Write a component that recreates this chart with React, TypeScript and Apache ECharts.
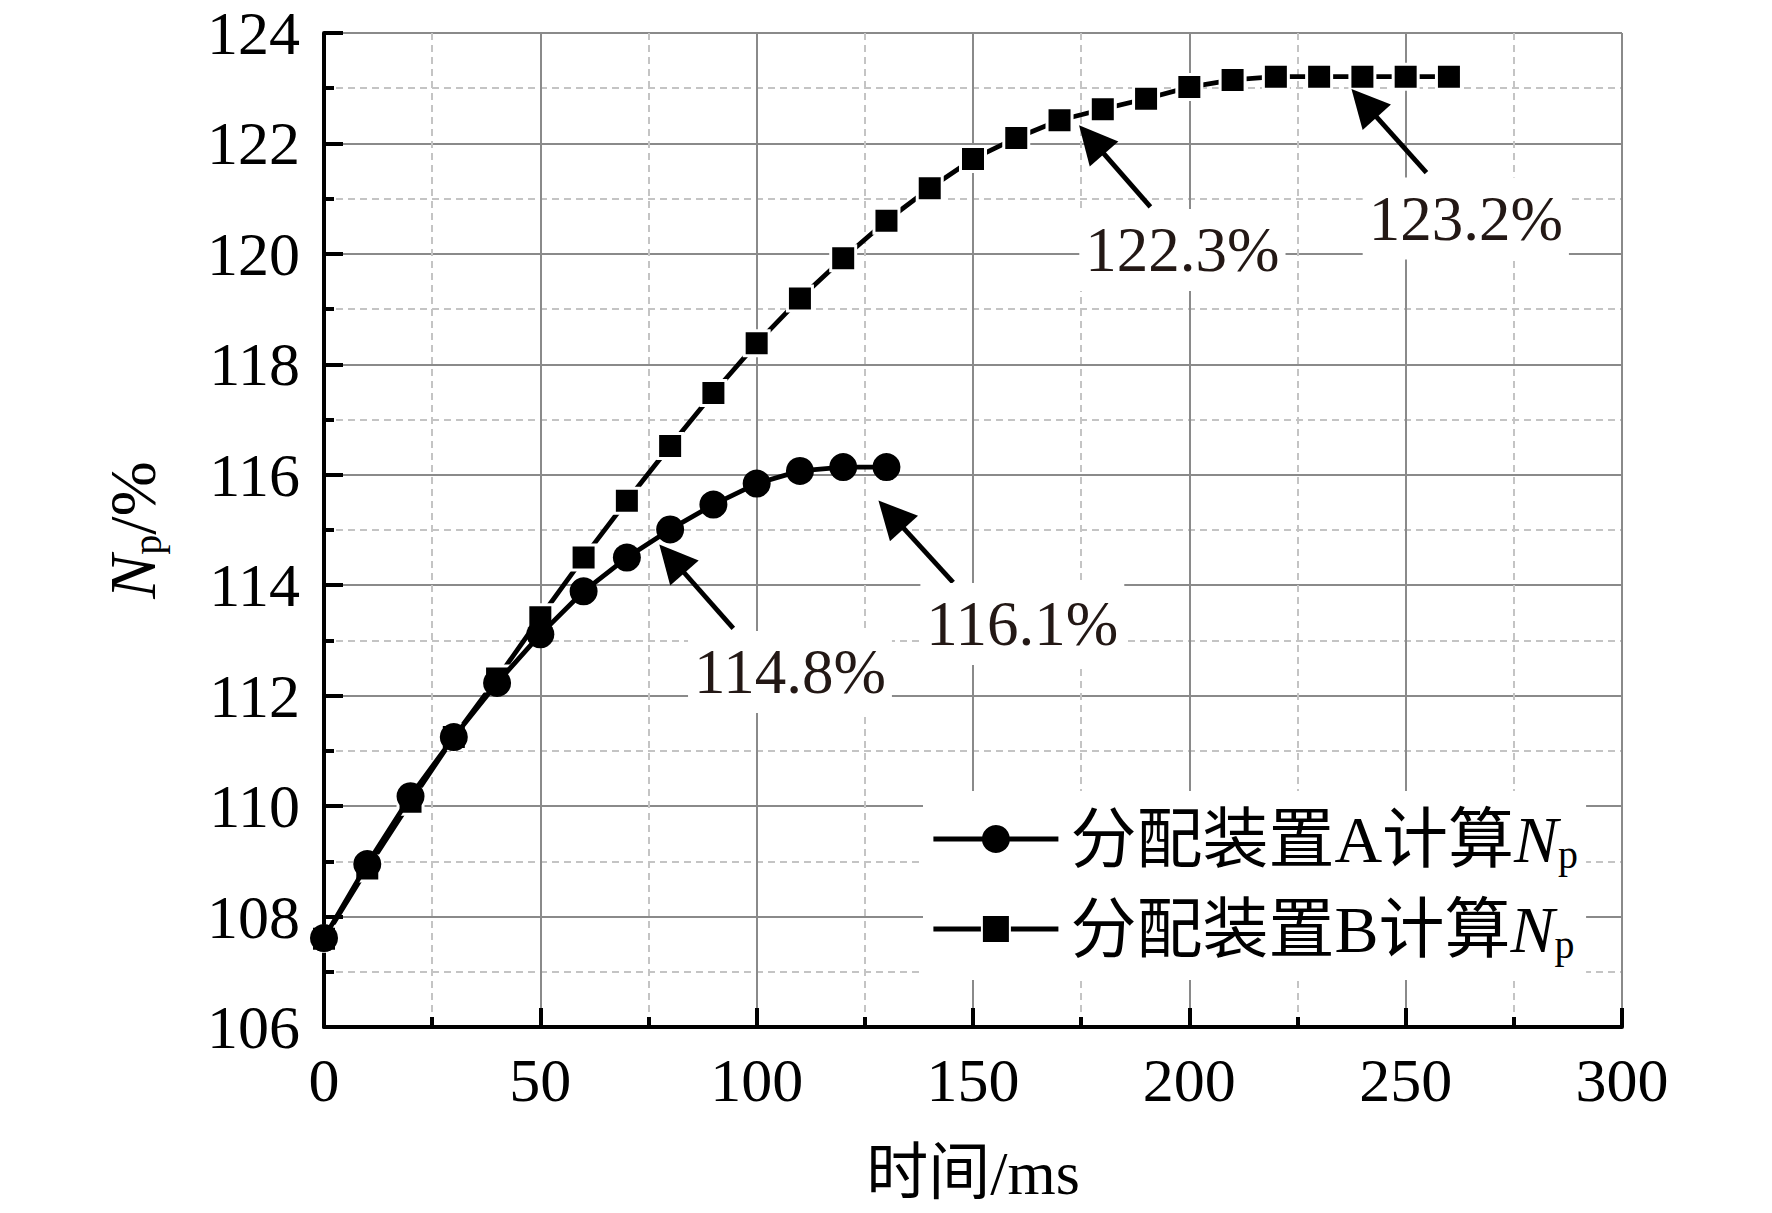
import React, { useEffect, useRef } from "react";
import * as echarts from "echarts";

// ---- data ----
const timesA = [0, 10, 20, 30, 40, 50, 60, 70, 80, 90, 100, 110, 120, 130];
const valuesA = [107.61, 108.95, 110.18, 111.25, 112.23, 113.11, 113.89, 114.5, 115.01, 115.46, 115.84, 116.07, 116.14, 116.14];

const timesB = [0, 10, 20, 30, 40, 50, 60, 70, 80, 90, 100, 110, 120, 130, 140, 150, 160, 170, 180, 190, 200, 210, 220, 230, 240, 250, 260];
const valuesB = [107.6, 108.87, 110.08, 111.25, 112.31, 113.42, 114.5, 115.53, 116.52, 117.48, 118.38, 119.19, 119.92, 120.6, 121.19, 121.72, 122.1, 122.42, 122.62, 122.81, 123.02, 123.15, 123.21, 123.21, 123.21, 123.21, 123.21];

const seriesNames = ["分配装置A计算Np", "分配装置B计算Np"];
const legendMain = ["分配装置A计算", "分配装置B计算"];

// annotations (data coordinates)
const noteTexts = ["122.3%", "123.2%", "114.8%", "116.1%"];
const noteX = [198.4, 263.9, 107.7, 161.4];
const noteY = [120.07, 120.64, 112.43, 113.3];
const arrowTailX = [191, 254.8, 94.6, 145.4];
const arrowTailY = [120.85, 121.47, 113.22, 114.05];
const arrowHeadX = [177.4, 240.4, 80.4, 131.1];
const arrowHeadY = [122.07, 122.73, 114.48, 115.28];

const xTicks = { min: 0, max: 300, interval: 50 };
const yTicks = { min: 106, max: 124, interval: 2 };

const SERIF = "'Liberation Serif', 'Times New Roman', serif";
const MIXED = "'Liberation Serif', 'Noto Sans CJK SC', serif";

export default function App() {
  const ref = useRef<HTMLDivElement>(null);

  useEffect(() => {
    if (!ref.current) return;
    const chart = echarts.init(ref.current, null, { renderer: "svg" });

    const axisCommon = {
      type: "value" as const,
      axisLine: { show: true, onZero: false, lineStyle: { color: "#000", width: 4 } },
      axisTick: { show: true, inside: true, length: 19, lineStyle: { color: "#000", width: 4 } },
      minorTick: { show: true, splitNumber: 2, length: 10, lineStyle: { color: "#000", width: 4 } },
      splitLine: { show: true, lineStyle: { color: "#8a8a8a", width: 2 } },
      minorSplitLine: { show: true, lineStyle: { color: "#c4c4c4", width: 2, type: [7, 5] } },
    };

    const option: any = {
      animation: false,
      backgroundColor: "#fff",
      grid: { left: 324, right: 150, top: 33, bottom: 186, containLabel: false },
      xAxis: {
        ...axisCommon,
        min: xTicks.min,
        max: xTicks.max,
        interval: xTicks.interval,
        axisLabel: { margin: 22, fontSize: 62, fontFamily: SERIF, color: "#000" },
        name: "时间/ms",
        nameLocation: "middle",
        nameGap: 115,
        nameTextStyle: { fontSize: 62, fontFamily: MIXED, color: "#000" },
      },
      yAxis: {
        ...axisCommon,
        min: yTicks.min,
        max: yTicks.max,
        interval: yTicks.interval,
        axisLabel: { margin: 24, fontSize: 62, fontFamily: SERIF, color: "#000" },
        name: "{n|N}{s|p}{t|/%}",
        nameLocation: "middle",
        nameRotate: 90,
        nameGap: 157,
        nameTextStyle: {
          color: "#000",
          rich: {
            n: { fontSize: 66, fontStyle: "italic", fontFamily: SERIF, lineHeight: 70, color: "#000" },
            s: { fontSize: 40, fontFamily: SERIF, lineHeight: 36, verticalAlign: "bottom", color: "#000" },
            t: { fontSize: 66, fontFamily: SERIF, lineHeight: 70, color: "#000" },
          },
        },
      },
      legend: {
        show: true,
        orient: "vertical",
        left: 923,
        top: 791,
        padding: [15, 8, 16, 8],
        itemGap: 22,
        itemWidth: 125,
        itemHeight: 35,
        backgroundColor: "#fff",
        selectedMode: false,
        lineStyle: { width: 4.8 },
        data: [seriesNames[0], seriesNames[1]],
        formatter: (name: string) => {
          const i = seriesNames.indexOf(name);
          return `{c|${legendMain[i]}}{n|N}{s|p}`;
        },
        textStyle: {
          color: "#000",
          rich: {
            c: { fontSize: 66, fontFamily: MIXED, lineHeight: 70, padding: [0, 0, 0, 7], color: "#000" },
            n: { fontSize: 66, fontStyle: "italic", fontFamily: SERIF, lineHeight: 70, color: "#000" },
            s: { fontSize: 40, fontFamily: SERIF, lineHeight: 34, verticalAlign: "bottom", color: "#000" },
          },
        },
      },
      series: [
        {
          name: seriesNames[1],
          type: "line",
          data: timesB.map((t, i) => [t, valuesB[i]]),
          symbol: "rect",
          symbolSize: 25,
          lineStyle: { color: "#000", width: 4.8 },
          itemStyle: { color: "#000", borderColor: "#fff", borderWidth: 3 },
          z: 2,
        },
        {
          name: seriesNames[0],
          type: "line",
          data: timesA.map((t, i) => [t, valuesA[i]]),
          symbol: "circle",
          symbolSize: 28,
          lineStyle: { color: "#000", width: 4.8 },
          itemStyle: { color: "#000" },
          z: 3,
          markLine: {
            silent: true,
            symbol: ["none", "triangle"],
            symbolSize: 38,
            lineStyle: { color: "#000", width: 4.8, type: "solid" },
            itemStyle: { color: "#000" },
            label: { show: false },
            emphasis: { disabled: true },
            data: noteTexts.map((_, i) => [
              { coord: [arrowTailX[i], arrowTailY[i]] },
              { coord: [arrowHeadX[i], arrowHeadY[i]] },
            ]),
          },
          markPoint: {
            silent: true,
            symbol: "rect",
            symbolSize: 1,
            itemStyle: { color: "rgba(0,0,0,0)" },
            label: {
              show: true,
              position: "inside",
              formatter: (p: any) => p.name,
              fontSize: 63,
              fontFamily: SERIF,
              color: "#231815",
              backgroundColor: "#fff",
              padding: [6, 6, 12, 6],
              lineHeight: 64,
            },
            data: noteTexts.map((t, i) => ({ name: t, coord: [noteX[i], noteY[i]] })),
          },
        },
      ],
    };

    chart.setOption(option);
    return () => chart.dispose();
  }, []);

  return (
    <div
      ref={ref}
      style={{ position: "absolute", left: 0, top: 0, width: 1772, height: 1213, background: "#fff" }}
    />
  );
}
